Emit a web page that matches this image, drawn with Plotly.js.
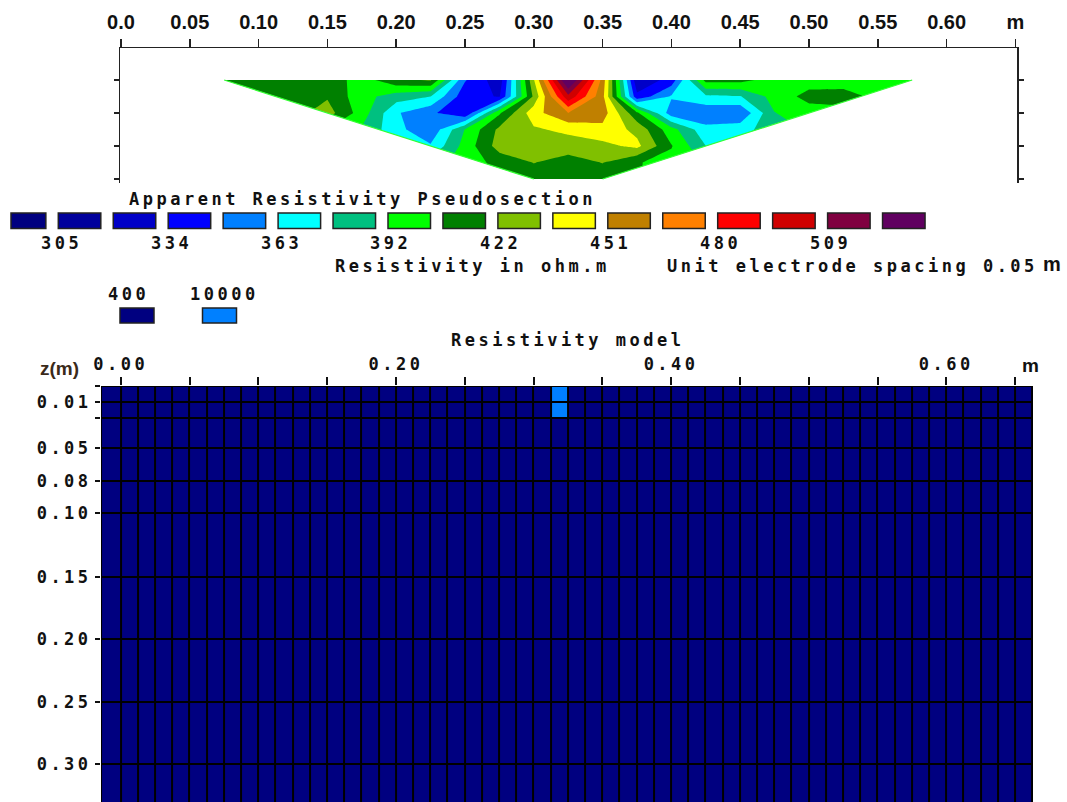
<!DOCTYPE html>
<html><head><meta charset="utf-8">
<script src="https://cdn.plot.ly/plotly-3.0.1.min.js"></script>
<style>html,body{margin:0;padding:0;background:#fff;overflow:hidden}#chart{width:1067px;height:802px}</style>
</head><body><div id="chart"></div>
<script>
// ---------------- DATA ----------------
// Apparent resistivity pseudosection (ohm.m), read per pseudo-depth level
const xLevel1  = [0.075,0.1,0.125,0.15,0.175,0.2,0.225,0.25,0.275,0.3,0.325,0.35,0.375,0.4,0.425,0.45,0.475,0.5,0.525,0.55,0.575];
const rhoLevel1  = [410,413,415,416,400,418,423,350,325,435,545,460,322,340,412,412,400,400,401,401,400];
const xLevel15 = [0.125,0.15,0.175,0.2,0.225,0.25,0.275,0.3,0.325,0.35,0.375,0.4,0.425,0.45,0.475,0.5,0.525];
const rhoLevel15 = [416,420,398,385,378,340,333,425,505,455,338,365,375,377,398,412,412];
const xLevel2  = [0.15,0.175,0.2,0.225,0.25,0.275,0.3,0.325,0.35,0.375,0.4,0.425,0.45,0.475,0.5];
const rhoLevel2  = [428,400,365,352,335,405,445,465,458,410,355,352,350,392,400];
const xLevel25 = [0.2,0.225,0.25,0.275,0.3,0.325,0.35,0.375,0.4,0.425,0.45];
const rhoLevel25 = [368,352,393,425,434,440,446,432,398,368,372];
const xLevel3  = [0.225,0.25,0.275,0.3,0.325,0.35,0.375,0.4,0.425];
const rhoLevel3  = [365,398,428,430,428,432,440,408,378];
const xLevel35 = [0.275,0.3,0.325,0.35,0.375];
const rhoLevel35 = [412,422,416,422,408];
const xLevel4  = [0.3,0.325,0.35];
const rhoLevel4  = [414,414,414];
const psLevels = [1, 1.5, 2, 2.5, 3, 3.5, 4];

// Pseudosection colour legend
const legendColors = ['#000080','#00009c','#0000c8','#0000ff','#0080ff','#00ffff','#00c080','#00ff00',
                      '#008000','#80c000','#ffff00','#c08000','#ff8000','#ff0000','#d00000','#800040','#600060'];
const legendLabels = ['305','334','363','392','422','451','480','509'];
const legendFirst = 305, legendLast = 509;

// Top axis tick labels (m)
const distanceLabels = ['0.0','0.05','0.10','0.15','0.20','0.25','0.30','0.35','0.40','0.45','0.50','0.55','0.60','m'];

// Resistivity model
const modelValues = [400, 10000];
const modelColors = ['#000080', '#0080ff'];
const layerDepths = [0, 0.0125, 0.0256, 0.0494, 0.0752, 0.1005, 0.1516, 0.201, 0.2506, 0.3002, 0.35];
const depthLabels = ['', '0.01', '', '0.05', '0.08', '0.10', '0.15', '0.20', '0.25', '0.30'];
const modelXLabels = ['0.00','','','','0.20','','','','0.40','','','','0.60',''];
const modelLeftEdge = -0.0143, modelRightEdge = 0.6625, blockWidth = 0.0125;
const anomalyBlockLeft = [0.3125, 0.3125];
const anomalyLayer = [0, 1];

// ---------------- BUILD ----------------
const W = 1067, H = 802;
const px = x => x / W, py = y => 1 - y / H;
const mono = {family: 'DejaVu Sans Mono, monospace', size: 17, color: '#111', weight: 'bold'};
const sans = {family: 'Liberation Sans, Arial, sans-serif', size: 20, color: '#111', weight: 'bold'};
const sp = t => '<span style="letter-spacing:3.5px">' + t + '</span>';

// pseudosection points
const rowsX = [xLevel1, xLevel15, xLevel2, xLevel25, xLevel3, xLevel35, xLevel4];
const rowsR = [rhoLevel1, rhoLevel15, rhoLevel2, rhoLevel25, rhoLevel3, rhoLevel35, rhoLevel4];
const psX = [], psY = [], psZ = [];
rowsX.forEach((xs, i) => xs.forEach((x, j) => { psX.push(x); psY.push(psLevels[i]); psZ.push(rowsR[i][j]); }));

const step = (legendLast - legendFirst) / (legendLabels.length - 1) / 2;
const nLev = legendColors.length - 1;
const cs = [];
legendColors.forEach((c, j) => {
  cs.push([Math.max(0, (j - 0.5) / nLev), c]);
  cs.push([Math.min(1, (j + 0.5) / nLev), c]);
});

const pseudo = {
  type: 'contour', x: psX, y: psY, z: psZ, xaxis: 'x', yaxis: 'y',
  connectgaps: true, colorscale: cs, showscale: false, hoverinfo: 'skip',
  contours: {start: legendFirst, end: legendFirst + (nLev - 1) * step, size: step, coloring: 'fill', showlines: false},
  line: {width: 0, smoothing: 0}
};

// model blocks
const xEdges = [modelLeftEdge];
for (let k = 0; ; k++) { const e = Math.round(k * blockWidth * 1e6) / 1e6; if (e > modelRightEdge - 1e-9) break; xEdges.push(e); }
xEdges.push(modelRightEdge);
const nCols = xEdges.length - 1, nRows = layerDepths.length - 1;
const zModel = [];
for (let r = 0; r < nRows; r++) { const row = []; for (let c = 0; c < nCols; c++) row.push(modelValues[0]); zModel.push(row); }
anomalyBlockLeft.forEach((xl, i) => {
  const c = xEdges.findIndex(e => Math.abs(e - xl) < 1e-6);
  zModel[anomalyLayer[i]][c] = modelValues[1];
});
const model = {
  type: 'heatmap', x: xEdges, y: layerDepths, z: zModel, xaxis: 'x2', yaxis: 'y2',
  zmin: modelValues[0], zmax: modelValues[1], xgap: 2, ygap: 2, showscale: false, hoverinfo: 'skip',
  colorscale: [[0, modelColors[0]], [0.5, modelColors[0]], [0.5, modelColors[1]], [1, modelColors[1]]]
};

// axes geometry
const mPx = 1376; // px per metre
const distTicks = distanceLabels.map((_, i) => Math.round(i * 0.05 * 100) / 100);
const layout = {
  width: W, height: H, margin: {l: 0, r: 0, t: 0, b: 0},
  paper_bgcolor: '#fff', plot_bgcolor: '#fff', showlegend: false,
  xaxis: {domain: [px(120), px(1017)], range: [(120 - 121) / mPx, (1017 - 121) / mPx], anchor: 'y', side: 'top',
          tickmode: 'array', tickvals: distTicks, ticktext: distanceLabels, tickfont: sans,
          ticks: 'outside', ticklen: 8, tickwidth: 1.5, tickcolor: '#222', showline: true, linecolor: '#222', linewidth: 1.5,
          showgrid: false, zeroline: false, ticklabelstandoff: 2},
  yaxis: {domain: [py(183), py(48)], range: [(183 - 47) / 33, (48 - 47) / 33], anchor: 'x',
          tickmode: 'array', tickvals: [1, 2, 3, 4], showticklabels: false, ticks: 'outside', ticklen: 5, tickwidth: 1.5,
          tickcolor: '#222', showline: true, linecolor: '#222', linewidth: 1.5, mirror: 'ticks', showgrid: false, zeroline: false},
  xaxis2: {domain: [px(101), px(1033)], range: [(101 - 120.7) / mPx, (1033 - 120.7) / mPx], anchor: 'y2', side: 'top',
           tickmode: 'array', tickvals: modelXLabels.map((_, i) => Math.round(i * 0.05 * 100) / 100),
           ticktext: modelXLabels.map(t => t ? sp(t) : ''), tickfont: mono,
           ticks: 'outside', ticklen: 8, tickwidth: 2, tickcolor: '#111', showline: false, showgrid: false, zeroline: false},
  yaxis2: {domain: [0, py(386)], range: [(802 - 386) / 1260, 0], anchor: 'x2',
           tickmode: 'array', tickvals: layerDepths.slice(0, depthLabels.length), ticktext: depthLabels.map(t => t ? sp(t) : ''),
           tickfont: mono, ticks: 'outside', ticklen: 5, tickwidth: 2, tickcolor: '#111', showline: false, showgrid: false, zeroline: false},
  shapes: [], annotations: []
};

// black grid background for model
layout.shapes.push({type: 'rect', xref: 'x2 domain', yref: 'y2 domain', x0: 0, x1: 1, y0: 0, y1: 1, fillcolor: '#000', line: {width: 0}, layer: 'below'});
// masks outside the pseudosection triangle
const xl1 = xLevel1[0], xr1 = xLevel1[xLevel1.length - 1], xl4 = xLevel4[0], xr4 = xLevel4[xLevel4.length - 1];
const yTop = psLevels[0], yBot = psLevels[psLevels.length - 1];
layout.shapes.push({type: 'path', xref: 'x', yref: 'y', layer: 'above', fillcolor: '#fff', line: {width: 0},
  path: `M${xl1 - 0.01},${yTop} L${xl1},${yTop} L${xl4},${yBot} L${xl4},${yBot + 0.1} L${xl1 - 0.01},${yBot + 0.1} Z`});
layout.shapes.push({type: 'path', xref: 'x', yref: 'y', layer: 'above', fillcolor: '#fff', line: {width: 0},
  path: `M${xr1 + 0.01},${yTop} L${xr1},${yTop} L${xr4},${yBot} L${xr4},${yBot + 0.1} L${xr1 + 0.01},${yBot + 0.1} Z`});
[[xl1, xl4], [xr1, xr4]].forEach(([a, b]) => layout.shapes.push({type: 'line', xref: 'x', yref: 'y', layer: 'above',
  x0: a, y0: yTop, x1: b, y1: yBot, line: {color: '#33ff33', width: 1.2}}));

// legend swatches
const swPitch = 54.95, swW = 42.5, swFirst = 58.3;
legendColors.forEach((c, j) => {
  const left = j === 0 ? 11 : swFirst + (j - 1) * swPitch;
  const right = j === 0 ? swFirst - swPitch + swW : left + swW;
  layout.shapes.push({type: 'rect', xref: 'paper', yref: 'paper', x0: px(left), x1: px(right), y0: py(228.5), y1: py(213),
    fillcolor: c, line: {color: '#222', width: 1.5}});
});
const ann = (text, x, y, xanchor, font) => layout.annotations.push({text, x: px(x), y: py(y), xref: 'paper', yref: 'paper',
  xanchor, yanchor: 'middle', showarrow: false, font});
legendLabels.forEach((t, k) => ann(sp(t), 59.7 + k * 2 * swPitch + 1.5, 243.5, 'center', mono));
ann(sp('Apparent Resistivity Pseudosection'), 127, 199, 'left', mono);
ann(sp('Resistivity in ohm.m'), 333, 266, 'left', mono);
ann(sp('Unit electrode spacing 0.05'), 665, 266, 'left', mono);
ann('m', 1052, 264, 'center', Object.assign({}, sans, {size: 20}));
// model legend
const modelLegendX = [137, 219.5];
modelValues.forEach((v, i) => {
  ann(sp(String(v)), i === 0 ? 128 : 224.5, 294, 'center', mono);
  layout.shapes.push({type: 'rect', xref: 'paper', yref: 'paper', x0: px(modelLegendX[i] - 17), x1: px(modelLegendX[i] + 17),
    y0: py(323), y1: py(308), fillcolor: modelColors[i], line: {color: '#222', width: 1.5}});
});
ann(sp('Resistivity model'), 449, 340, 'left', mono);
ann('z(m)', 59, 368, 'center', Object.assign({}, sans, {size: 19, color: '#3a2a1a'}));
ann('m', 1030, 365, 'center', Object.assign({}, sans, {size: 19}));

Plotly.newPlot('chart', [pseudo, model], layout, {staticPlot: true, displayModeBar: false});
</script></body></html>
